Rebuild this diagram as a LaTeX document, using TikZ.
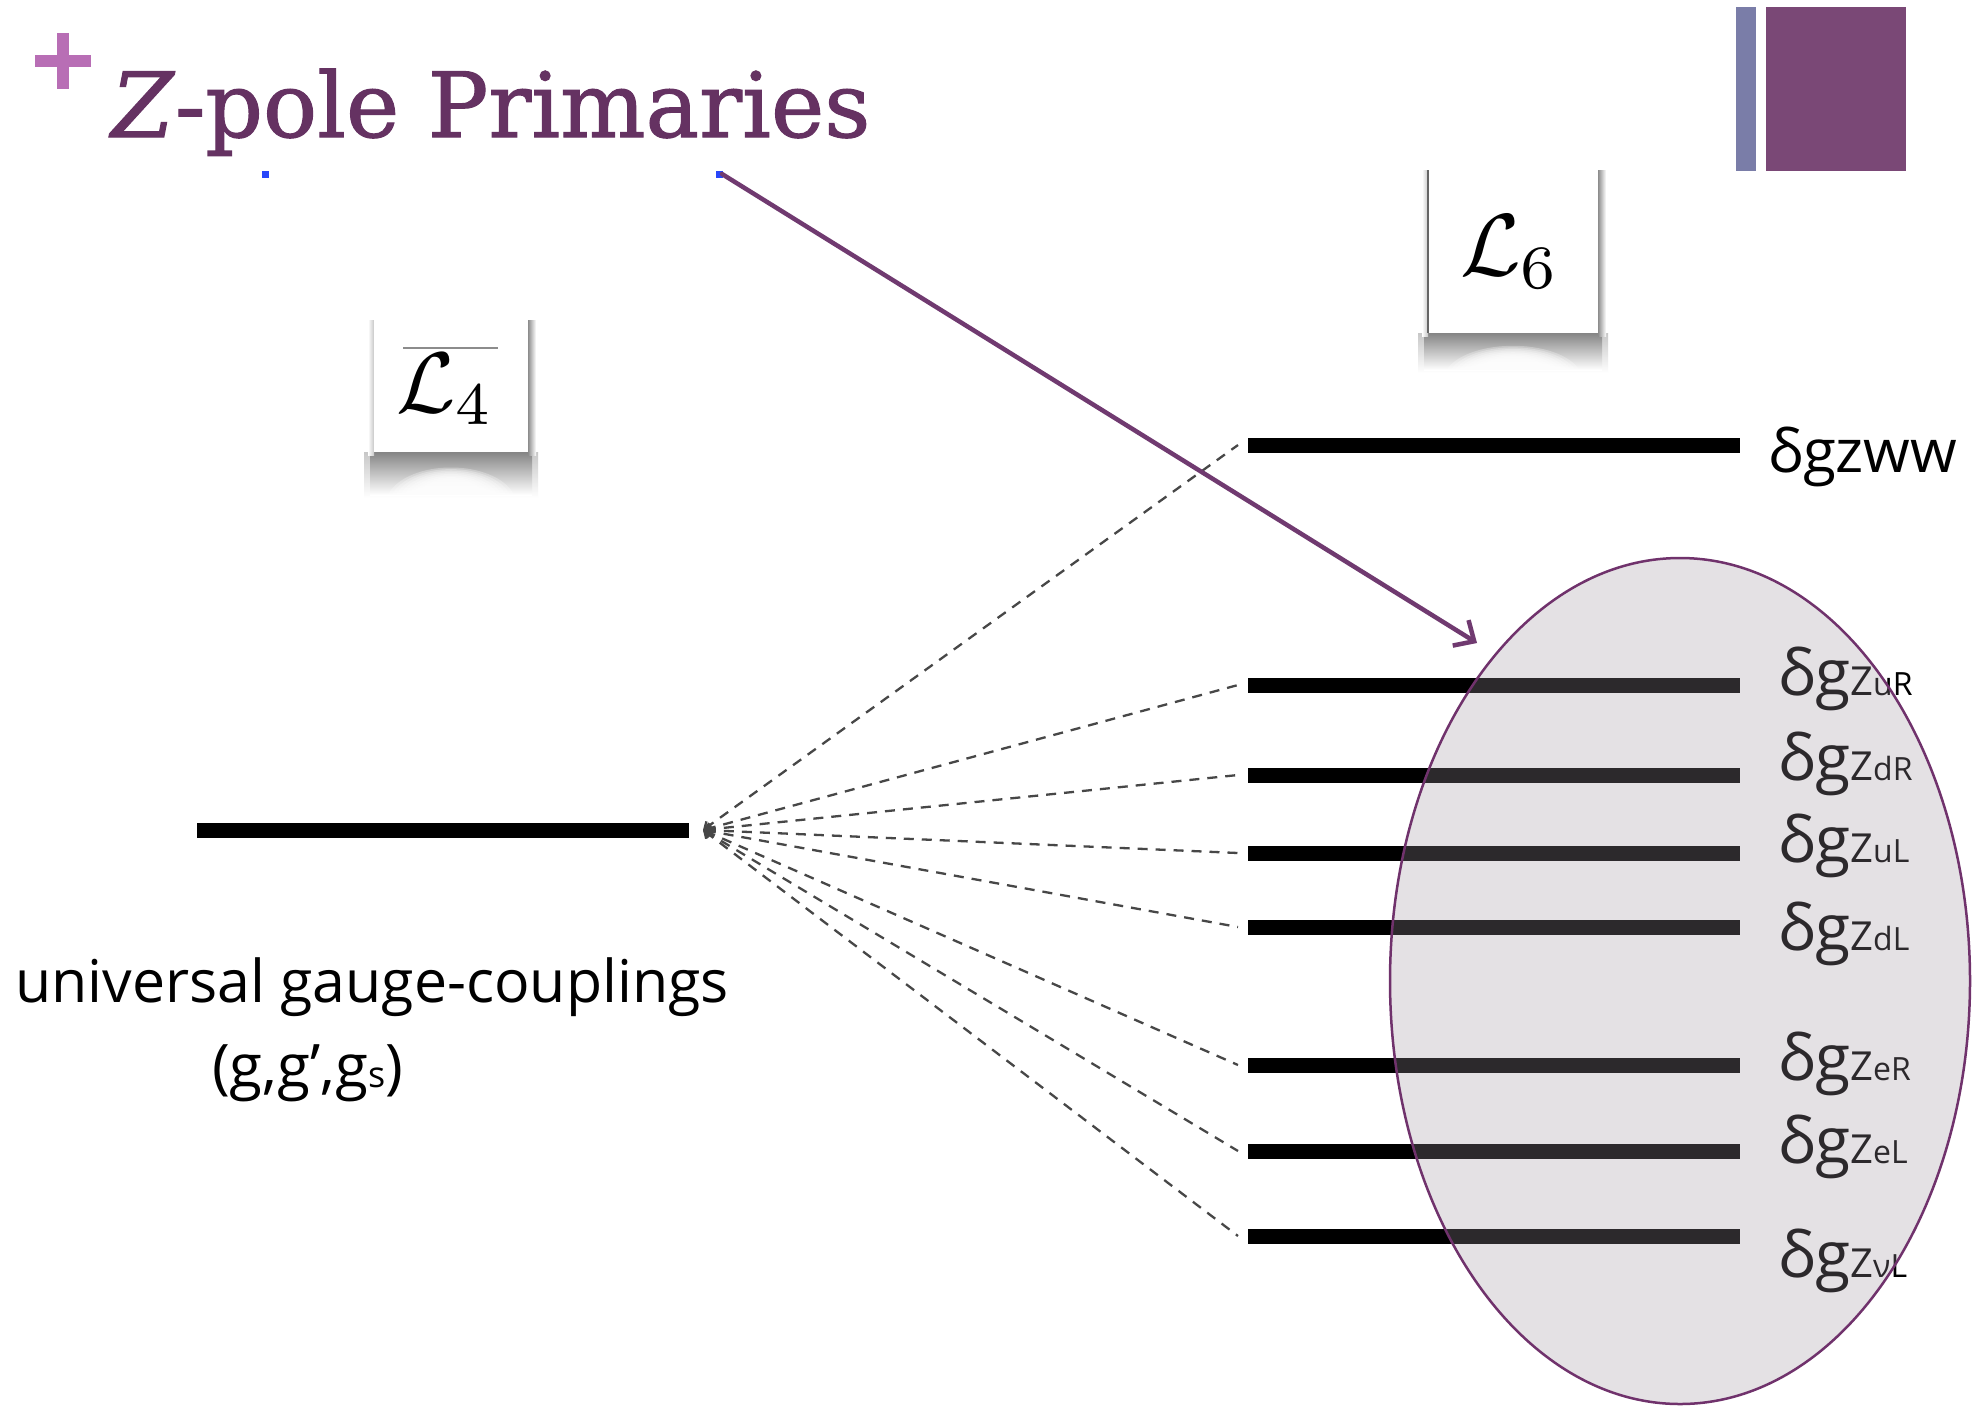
\documentclass[tikz,border=0pt]{standalone}
\usepackage{fontspec}
\usetikzlibrary{arrows.meta}
\newfontfamily\titlefont[FakeBold=1.2]{DejaVu Serif}
\newfontfamily\labfont{Open Sans}
\definecolor{ttl}{RGB}{101,50,98}
\definecolor{plusc}{RGB}{184,110,181}
\definecolor{barblue}{RGB}{122,125,168}
\definecolor{barpurple}{RGB}{122,72,118}
\definecolor{arrowc}{RGB}{112,58,112}
\definecolor{ellborder}{RGB}{112,50,108}
\definecolor{ellfill}{RGB}{160,148,160}
\definecolor{dotblue}{RGB}{40,70,250}
% sticker: x1 y1 x2 y2 depth
\newcommand\mysticker[5]{%
  \shade[top color=black!22, bottom color=white] (#1-10,#4) rectangle (#3+10,#4+#5);
  \shade[top color=black!48, bottom color=white] (#1-4,#4) rectangle (#3+4,#4+#5-3);
  \foreach \k in {0,...,7} {%
    \fill[white,opacity=0.28] ({(#1+#3)/2},{#4+#5+6}) ellipse ({(#3-#1)*0.24+\k*4} and {#5*0.55+\k*1.6});}
  \shade[left color=black!45, right color=white] (#3,#2) rectangle (#3+8,#4+3);
  \shade[left color=white, right color=black!22] (#1-6,#2) rectangle (#1,#4+3);
  \fill[white] (#1,#2) rectangle (#3,#4);
}
\newcommand\dgz[1]{{\fontsize{64}{70}\selectfont δg}{\fontsize{40}{44}\selectfont Z}{\fontsize{32}{34}\selectfont #1}}
\tikzset{
  bar/.style={line width=15pt, black},
  dash line/.style={line width=2.3pt, black!72, dash pattern=on 10pt off 8pt, {Straight Barb[length=6pt,width=10pt]}-},
  lab/.style={anchor=base west, inner sep=0pt, font=\labfont},
}
\begin{document}
\begin{tikzpicture}[x=1pt,y=-1pt]
\useasboundingbox[fill=white] (0,0) rectangle (1980,1406);
% header
\fill[plusc] (57,33) rectangle (69,89);
\fill[plusc] (35,55) rectangle (91,67);
\node[anchor=base west, inner sep=0pt, text=ttl, font=\titlefont\fontsize{90}{100}\selectfont] (title) at (111,137) {\textit{Z}-pole Primaries};
\fill[barblue] (1736,7) rectangle (1756,171);
\fill[barpurple] (1766,7) rectangle (1906,171);
\fill[dotblue] (262,171) rectangle (269,178);
\fill[dotblue] (716,171) rectangle (723,178);
% stickers
\mysticker{374}{320}{528}{452}{46}
\node[anchor=base west, inner sep=0pt] (L4) at (396,412) {\scalebox{8.6}{$\mathcal{L}_4$}};
\draw[black!45, line width=1.5pt] (403,348) -- (498,348);
\mysticker{1428}{170}{1598}{333}{40}
\draw[black!60, line width=2pt] (1428,170) -- (1428,333);
\node[anchor=base west, inner sep=0pt] (L6) at (1460,275) {\scalebox{8.8}{$\mathcal{L}_6$}};
% bars
\coordinate (la) at (197,830); \coordinate (lb) at (689,830);
\draw[bar] (la) -- (lb);
\coordinate (s) at (703,830);
\foreach \n/\y in {ww/445, uR/685, dR/775, uL/853, dL/927, eR/1065, eL/1151, nL/1236} {
  \coordinate (\n a) at (1248,\y);
  \coordinate (\n b) at (1740,\y);
  \coordinate (\n d) at (1238,\y);
  \draw[bar] (\n a) -- (\n b);
  \draw[dash line] (s) -- (\n d);
}
% labels
\node[lab, font=\labfont\fontsize{60}{64}\selectfont] (tww) at (1768,472) {δgzww};
\node[lab] (tuR) at (1778,695) {\dgz{uR}};
\node[lab] (tdR) at (1778,780) {\dgz{dR}};
\node[lab] (tuL) at (1778,862) {\dgz{uL}};
\node[lab] (tdL) at (1778,950) {\dgz{dL}};
\node[lab] (teR) at (1778,1080) {\dgz{eR}};
\node[lab] (teL) at (1778,1163) {\dgz{eL}};
\node[lab] (tnL) at (1778,1277) {\dgz{νL}};
\node[lab, font=\labfont\fontsize{59}{64}\selectfont] (uni) at (15,1002) {universal gauge-couplings};
\node[lab, font=\labfont\fontsize{60}{64}\selectfont] (ggg) at (212,1087) {(g,g’,g{\fontsize{36}{38}\selectfont s})};
% ellipse
\fill[ellfill, fill opacity=0.28] (1680,981) ellipse (290 and 423);
\draw[ellborder, line width=2.5pt] (1680,981) ellipse (290 and 423);
% arrow
\coordinate (astart) at (722,174);
\coordinate (aend) at (1477,643);
\draw[arrowc, line width=4.5pt, line cap=round, -{Straight Barb[length=16pt,width=30pt]}] (astart) -- (aend);
\end{tikzpicture}
\end{document}
